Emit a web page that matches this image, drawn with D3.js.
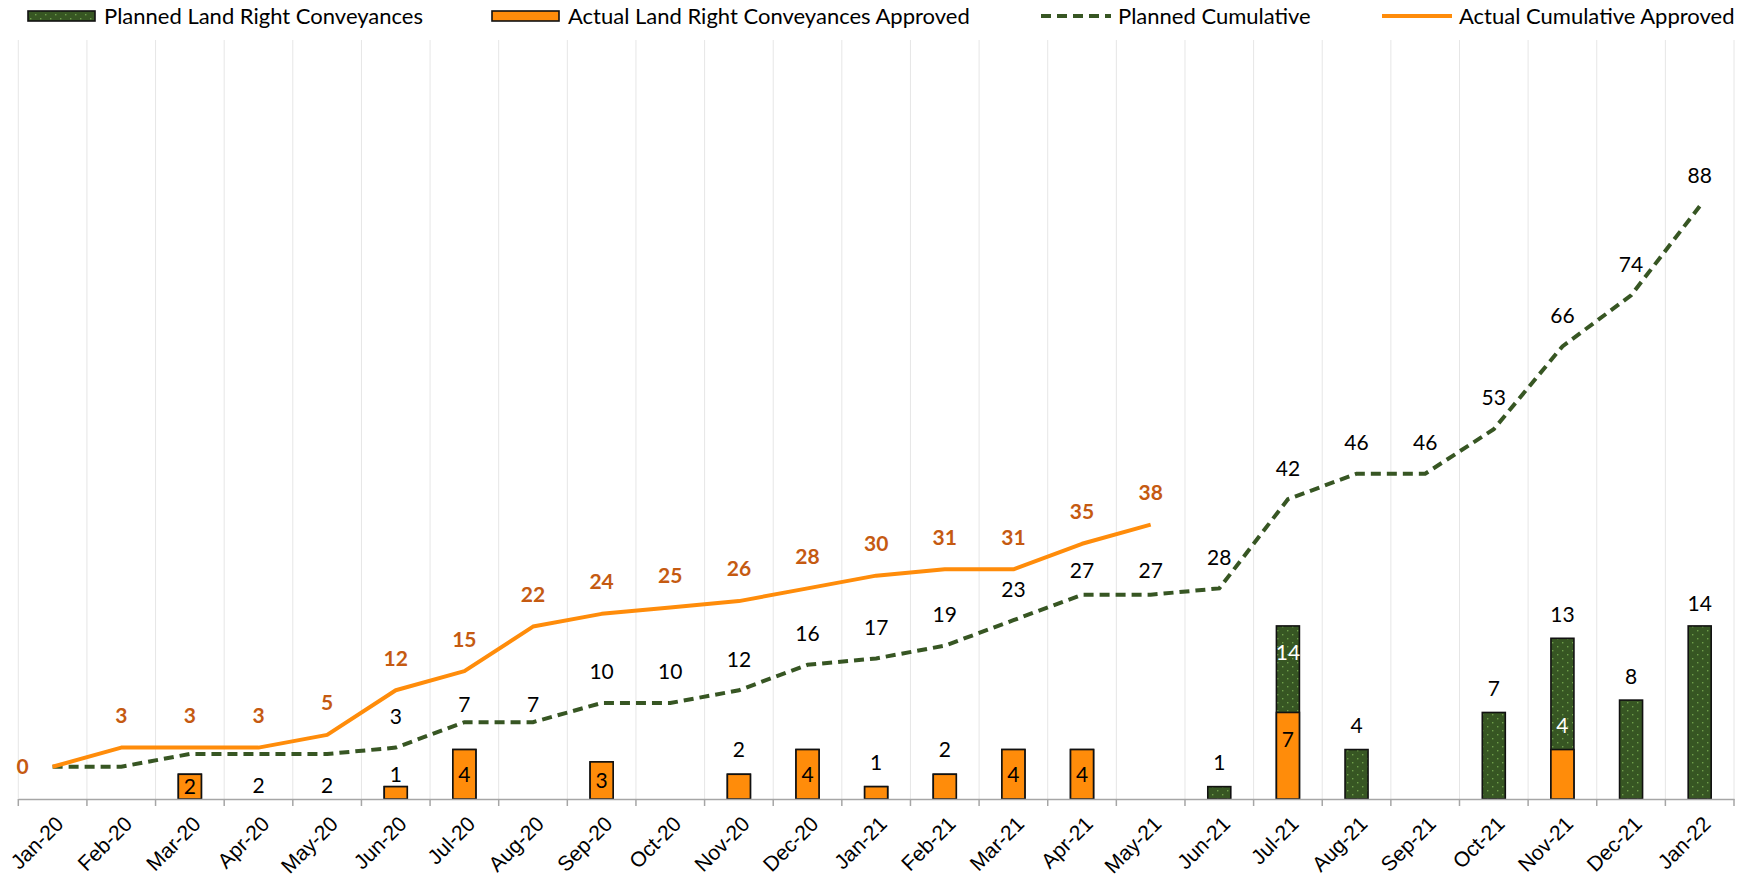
<!DOCTYPE html>
<html>
<head>
<meta charset="utf-8">
<script src="https://cdn.jsdelivr.net/npm/d3@7"></script>
<style>
	body { margin: 0; background: #fff; }
	svg { display: block; font-family: Lato, "Open Sans", sans-serif; }
</style>
</head>
<body>
<svg id="chart" width="1743" height="874"></svg>
<script>
const months = ['Jan-20', 'Feb-20', 'Mar-20', 'Apr-20', 'May-20', 'Jun-20', 'Jul-20', 'Aug-20',
	'Sep-20', 'Oct-20', 'Nov-20', 'Dec-20', 'Jan-21', 'Feb-21', 'Mar-21', 'Apr-21', 'May-21',
	'Jun-21', 'Jul-21', 'Aug-21', 'Sep-21', 'Oct-21', 'Nov-21', 'Dec-21', 'Jan-22'];

const plannedMonthly = [0, 0, 2, 0, 0, 1, 4, 0, 3, 0, 2, 4, 1, 2, 4, 4, 0, 1, 14, 4, 0, 7, 13, 8, 14];
const actualMonthly = [0, 0, 2, 0, 0, 1, 4, 0, 3, 0, 2, 4, 1, 2, 4, 4, 0, 0, 7, 0, 0, 0, 4, 0, 0];
const plannedCumulative = [0, 0, 2, 2, 2, 3, 7, 7, 10, 10, 12, 16, 17, 19, 23, 27, 27, 28, 42, 46, 46, 53, 66, 74, 88];
const actualCumulative = [0, 3, 3, 3, 5, 12, 15, 22, 24, 25, 26, 28, 30, 31, 31, 35, 38];

const legendNames = ['Planned Land Right Conveyances', 'Actual Land Right Conveyances Approved',
	'Planned Cumulative', 'Actual Cumulative Approved'];

const GREEN = '#375623',
	ORANGE = '#FF8C0A',
	LABEL_ORANGE = '#C55A11';

let svg = d3.select('#chart'),
	MARGINS = { top: 40, bottom: 799, left: 18.3, right: 1734 };

let x = d3.scaleBand()
	.domain(months)
	.range([MARGINS.left, MARGINS.right])
	.padding(0);

// bars sit on the primary axis, the two cumulative lines on the secondary one
let yBar = d3.scaleLinear()
	.domain([0, 61.4])
	.range([MARGINS.bottom, MARGINS.top]);
let yLine = d3.scaleLinear()
	.domain([-5.07, 114.1])
	.range([MARGINS.bottom, MARGINS.top]);

let bw = x.bandwidth(),
	barW = 23;
let cx = function (m) { return x(m) + bw / 2; };

// dotted fill for planned bars
let pat = svg.append('defs').append('pattern')
	.attr('id', 'dots')
	.attr('patternUnits', 'userSpaceOnUse')
	.attr('width', 10)
	.attr('height', 8);
pat.append('rect').attr('width', 10).attr('height', 8).attr('fill', GREEN);
pat.append('rect').attr('x', 2).attr('y', 2).attr('width', 1.4).attr('height', 1.4).attr('fill', '#6E9E4A');
pat.append('rect').attr('x', 7).attr('y', 6).attr('width', 1.4).attr('height', 1.4).attr('fill', '#6E9E4A');

// vertical gridlines at category edges
let edges = months.map(function (m) { return x(m); }).concat([MARGINS.right]);
svg.append('g').selectAll('line')
	.data(edges)
	.enter().append('line')
	.attr('x1', function (d) { return d; })
	.attr('x2', function (d) { return d; })
	.attr('y1', MARGINS.top)
	.attr('y2', MARGINS.bottom)
	.attr('stroke', '#E6E6E6')
	.attr('stroke-width', 1);

// planned bars first, actual drawn over them
svg.append('g').selectAll('rect')
	.data(months.filter(function (m, i) { return plannedMonthly[i] > 0; }))
	.enter().append('rect')
	.attr('x', function (m) { return cx(m) - barW / 2; })
	.attr('y', function (m) { return yBar(plannedMonthly[months.indexOf(m)]); })
	.attr('width', barW)
	.attr('height', function (m) { return yBar(0) - yBar(plannedMonthly[months.indexOf(m)]); })
	.attr('fill', 'url(#dots)')
	.attr('stroke', '#111')
	.attr('stroke-width', 1.6);

svg.append('g').selectAll('rect')
	.data(months.filter(function (m, i) { return actualMonthly[i] > 0; }))
	.enter().append('rect')
	.attr('x', function (m) { return cx(m) - barW / 2; })
	.attr('y', function (m) { return yBar(actualMonthly[months.indexOf(m)]); })
	.attr('width', barW)
	.attr('height', function (m) { return yBar(0) - yBar(actualMonthly[months.indexOf(m)]); })
	.attr('fill', ORANGE)
	.attr('stroke', '#111')
	.attr('stroke-width', 1.6);

// x axis
let xAxis = d3.axisBottom(x).tickSize(0).tickFormat('');
let axisG = svg.append('g')
	.attr('transform', 'translate(0,' + MARGINS.bottom + ')')
	.call(xAxis);
axisG.select('.domain').attr('stroke', '#A6A6A6').attr('stroke-width', 1.5);
axisG.selectAll('.edge-tick')
	.data(edges)
	.enter().append('line')
	.attr('x1', function (d) { return d; })
	.attr('x2', function (d) { return d; })
	.attr('y1', 0)
	.attr('y2', 7)
	.attr('stroke', '#A6A6A6')
	.attr('stroke-width', 1.5);
axisG.selectAll('.tick')
	.append('text')
	.text(function (d) { return d; })
	.attr('fill', '#000')
	.attr('font-size', 21)
	.attr('text-anchor', 'end')
	.attr('transform', 'translate(7,21) rotate(-45)')
	.attr('dy', '0.35em');

// cumulative lines
let lineGen = d3.line()
	.x(function (d, i) { return cx(months[i]); })
	.y(function (d) { return yLine(d); });

svg.append('path')
	.attr('d', lineGen(plannedCumulative))
	.attr('fill', 'none')
	.attr('stroke', GREEN)
	.attr('stroke-width', 4)
	.attr('stroke-dasharray', '10,6');

svg.append('path')
	.attr('d', lineGen(actualCumulative))
	.attr('fill', 'none')
	.attr('stroke', ORANGE)
	.attr('stroke-width', 4)
	.attr('stroke-linejoin', 'round');

// label placement tweaks (offsets of text centre from point / bar top)
const plannedCumHidden = ['Jan-20', 'Feb-20', 'Mar-20'];
const plannedCumOffset = { 'Apr-20': 32, 'May-20': 32, 'Jul-20': -17, 'Aug-20': -17, 'Apr-21': -24, 'May-21': -24 };

let labels = svg.append('g').attr('font-size', 21);

labels.selectAll('.pc')
	.data(months.filter(function (m) { return plannedCumHidden.indexOf(m) < 0; }))
	.enter().append('text')
	.attr('x', cx)
	.attr('y', function (m) {
		let off = plannedCumOffset[m] !== undefined ? plannedCumOffset[m] : -31;
		return yLine(plannedCumulative[months.indexOf(m)]) + off;
	})
	.attr('dy', '0.35em')
	.attr('text-anchor', 'middle')
	.attr('fill', '#000')
	.text(function (m) { return plannedCumulative[months.indexOf(m)]; });

labels.selectAll('.ac')
	.data(actualCumulative)
	.enter().append('text')
	.attr('x', function (d, i) { return i === 0 ? cx(months[i]) - 30 : cx(months[i]); })
	.attr('y', function (d, i) { return i === 0 ? yLine(d) : yLine(d) - 32; })
	.attr('dy', '0.35em')
	.attr('text-anchor', 'middle')
	.attr('font-weight', 'bold')
	.attr('fill', LABEL_ORANGE)
	.text(function (d) { return d; });

// bar labels: 'mid' = centre of bar, number = offset from bar top
const actualBarPos = { 'Mar-20': 'mid', 'Jun-20': -12, 'Jul-20': 'mid', 'Sep-20': 'mid', 'Nov-20': -25,
	'Dec-20': 'mid', 'Jan-21': -24, 'Feb-21': -25, 'Mar-21': 'mid', 'Apr-21': 'mid', 'Jul-21': 27, 'Nov-21': -24 };
const plannedBarPos = { 'Jun-21': -24, 'Jul-21': 27, 'Aug-21': -24, 'Oct-21': -24, 'Nov-21': -24, 'Dec-21': -23, 'Jan-22': -22 };

function barLabel(cls, values, pos, whiteOn) {
	labels.selectAll('.' + cls)
		.data(Object.keys(pos))
		.enter().append('text')
		.attr('x', cx)
		.attr('y', function (m) {
			let v = values[months.indexOf(m)];
			if (pos[m] === 'mid') return (yBar(v) + yBar(0)) / 2;
			return yBar(v) + pos[m];
		})
		.attr('dy', '0.35em')
		.attr('text-anchor', 'middle')
		.attr('fill', function (m) { return whiteOn.indexOf(m) >= 0 ? '#fff' : '#000'; })
		.text(function (m) { return values[months.indexOf(m)]; });
}
barLabel('ab', actualMonthly, actualBarPos, ['Nov-21']);
barLabel('pb', plannedMonthly, plannedBarPos, ['Jul-21']);

// legend
let legend = svg.append('g').attr('font-size', 22);
const legendX = [28, 492, 1041, 1382];
legendX.forEach(function (lx, i) {
	let g = legend.append('g').attr('transform', 'translate(' + lx + ',16)');
	if (i < 2) {
		g.append('rect')
			.attr('x', 0).attr('y', -5)
			.attr('width', 67).attr('height', 10)
			.attr('fill', i === 0 ? 'url(#dots)' : ORANGE)
			.attr('stroke', '#111')
			.attr('stroke-width', 1.6);
	} else {
		g.append('line')
			.attr('x1', 0).attr('x2', 70)
			.attr('stroke', i === 2 ? GREEN : ORANGE)
			.attr('stroke-width', 4)
			.attr('stroke-dasharray', i === 2 ? '10,6' : null);
	}
	g.append('text')
		.attr('x', i < 2 ? 76 : 77)
		.attr('dy', '0.35em')
		.attr('fill', '#000')
		.text(legendNames[i]);
});
</script>
</body>
</html>
